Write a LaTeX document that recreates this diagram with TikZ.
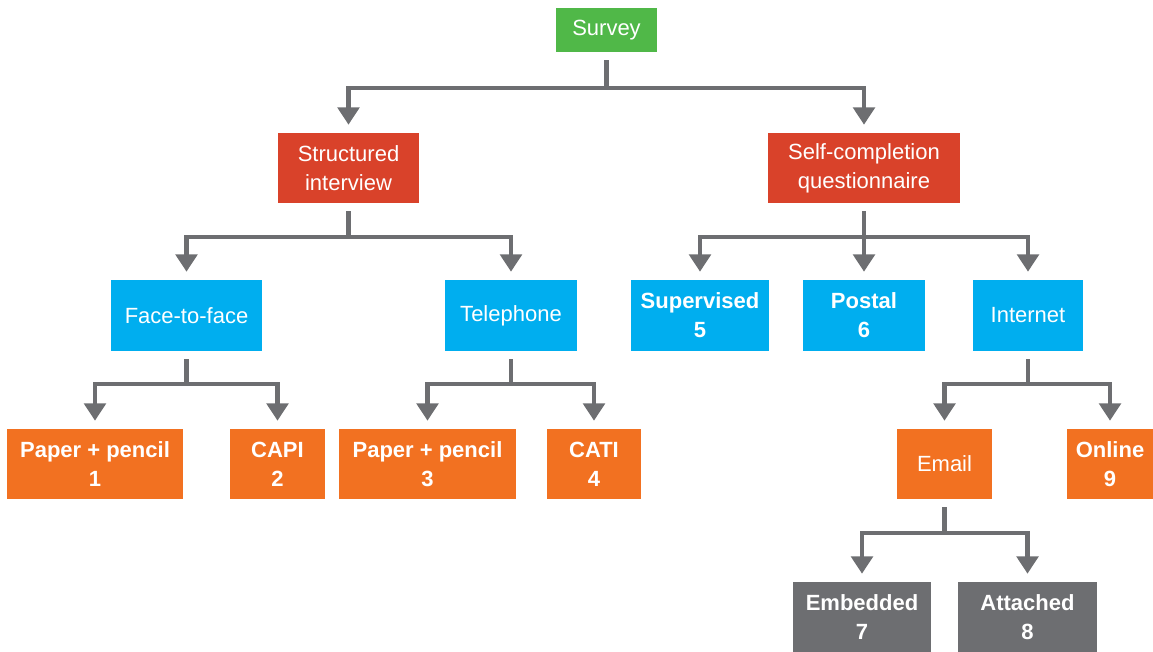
\documentclass[tikz,border=0pt]{standalone}
\usepackage{fontspec}
\setmainfont{Liberation Sans}
\usetikzlibrary{arrows.meta}
\definecolor{cgreen}{RGB}{80,184,72}
\definecolor{cred}{RGB}{217,66,42}
\definecolor{ccyan}{RGB}{0,174,239}
\definecolor{corange}{RGB}{242,113,33}
\definecolor{cgray}{RGB}{109,110,113}
\begin{document}
\begin{tikzpicture}[x=0.75pt,y=-0.75pt,
  box/.style={inner sep=0pt, align=center, text=white, font=\fontsize{16.5}{21.75}\selectfont},
  bbox/.style={box, font=\fontsize{16.5}{21.75}\selectfont\bfseries},
  sz/.style 2 args={minimum width=#1*0.75pt, minimum height=#2*0.75pt},
  conn/.style={draw=cgray, line width=3.6pt, line join=miter, -{Triangle[width=16pt,length=13pt]}}]
\useasboundingbox (0,0) rectangle (1153,652);
% level 0
\node[box, fill=cgreen, sz={101}{44}] (survey) at (606.5,30) {Survey};
% level 1
\node[box, fill=cred, sz={141}{70}] (si) at (348.5,168) {Structured\\interview};
\node[box, fill=cred, sz={192}{70}] (sc) at (864,168) {Self-completion\\questionnaire};
% level 2
\node[box, fill=ccyan, sz={151}{71}] (f2f) at (186.5,315.5) {Face-to-face};
\node[box, fill=ccyan, sz={132}{71}] (tel) at (511,315.5) {Telephone};
\node[bbox, fill=ccyan, sz={138}{71}] (sup) at (700,315.5) {Supervised\\5};
\node[bbox, fill=ccyan, sz={122}{71}] (pos) at (864,315.5) {Postal\\6};
\node[box, fill=ccyan, sz={110}{71}] (int) at (1028,315.5) {Internet};
% level 3
\node[bbox, fill=corange, sz={176}{70}] (pp1) at (95,464) {Paper + pencil\\1};
\node[bbox, fill=corange, sz={95}{70}] (capi) at (277.5,464) {CAPI\\2};
\node[bbox, fill=corange, sz={177}{70}] (pp3) at (427.5,464) {Paper + pencil\\3};
\node[bbox, fill=corange, sz={94}{70}] (cati) at (594,464) {CATI\\4};
\node[box, fill=corange, sz={95}{70}] (email) at (944.5,464) {Email};
\node[bbox, fill=corange, sz={86}{70}] (online) at (1110,464) {Online\\9};
% level 4
\node[bbox, fill=cgray, sz={138}{70}] (emb) at (862,617) {Embedded\\7};
\node[bbox, fill=cgray, sz={139}{70}] (att) at (1027.5,617) {Attached\\8};
% connectors
\draw[conn] ([yshift=-6pt]survey.south) -- (survey.south |- 0,88) -| ([yshift=6pt]si.north);
\draw[conn] ([yshift=-6pt]survey.south) -- (survey.south |- 0,88) -| ([yshift=6pt]sc.north);
\draw[conn] ([yshift=-6pt]si.south) -- (si.south |- 0,237) -| ([yshift=6pt]f2f.north);
\draw[conn] ([yshift=-6pt]si.south) -- (si.south |- 0,237) -| ([yshift=6pt]tel.north);
\draw[conn] ([yshift=-6pt]sc.south) -- (sc.south |- 0,237) -| ([yshift=6pt]sup.north);
\draw[conn] ([yshift=-6pt]sc.south) -- ([yshift=6pt]pos.north);
\draw[conn] ([yshift=-6pt]sc.south) -- (sc.south |- 0,237) -| ([yshift=6pt]int.north);
\draw[conn] ([yshift=-6pt]f2f.south) -- (f2f.south |- 0,384) -| ([yshift=6pt]pp1.north);
\draw[conn] ([yshift=-6pt]f2f.south) -- (f2f.south |- 0,384) -| ([yshift=6pt]capi.north);
\draw[conn] ([yshift=-6pt]tel.south) -- (tel.south |- 0,384) -| ([yshift=6pt]pp3.north);
\draw[conn] ([yshift=-6pt]tel.south) -- (tel.south |- 0,384) -| ([yshift=6pt]cati.north);
\draw[conn] ([yshift=-6pt]int.south) -- (int.south |- 0,384) -| ([yshift=6pt]email.north);
\draw[conn] ([yshift=-6pt]int.south) -- (int.south |- 0,384) -| ([yshift=6pt]online.north);
\draw[conn] ([yshift=-6pt]email.south) -- (email.south |- 0,533) -| ([yshift=6pt]emb.north);
\draw[conn] ([yshift=-6pt]email.south) -- (email.south |- 0,533) -| ([yshift=6pt]att.north);
\end{tikzpicture}
\end{document}
